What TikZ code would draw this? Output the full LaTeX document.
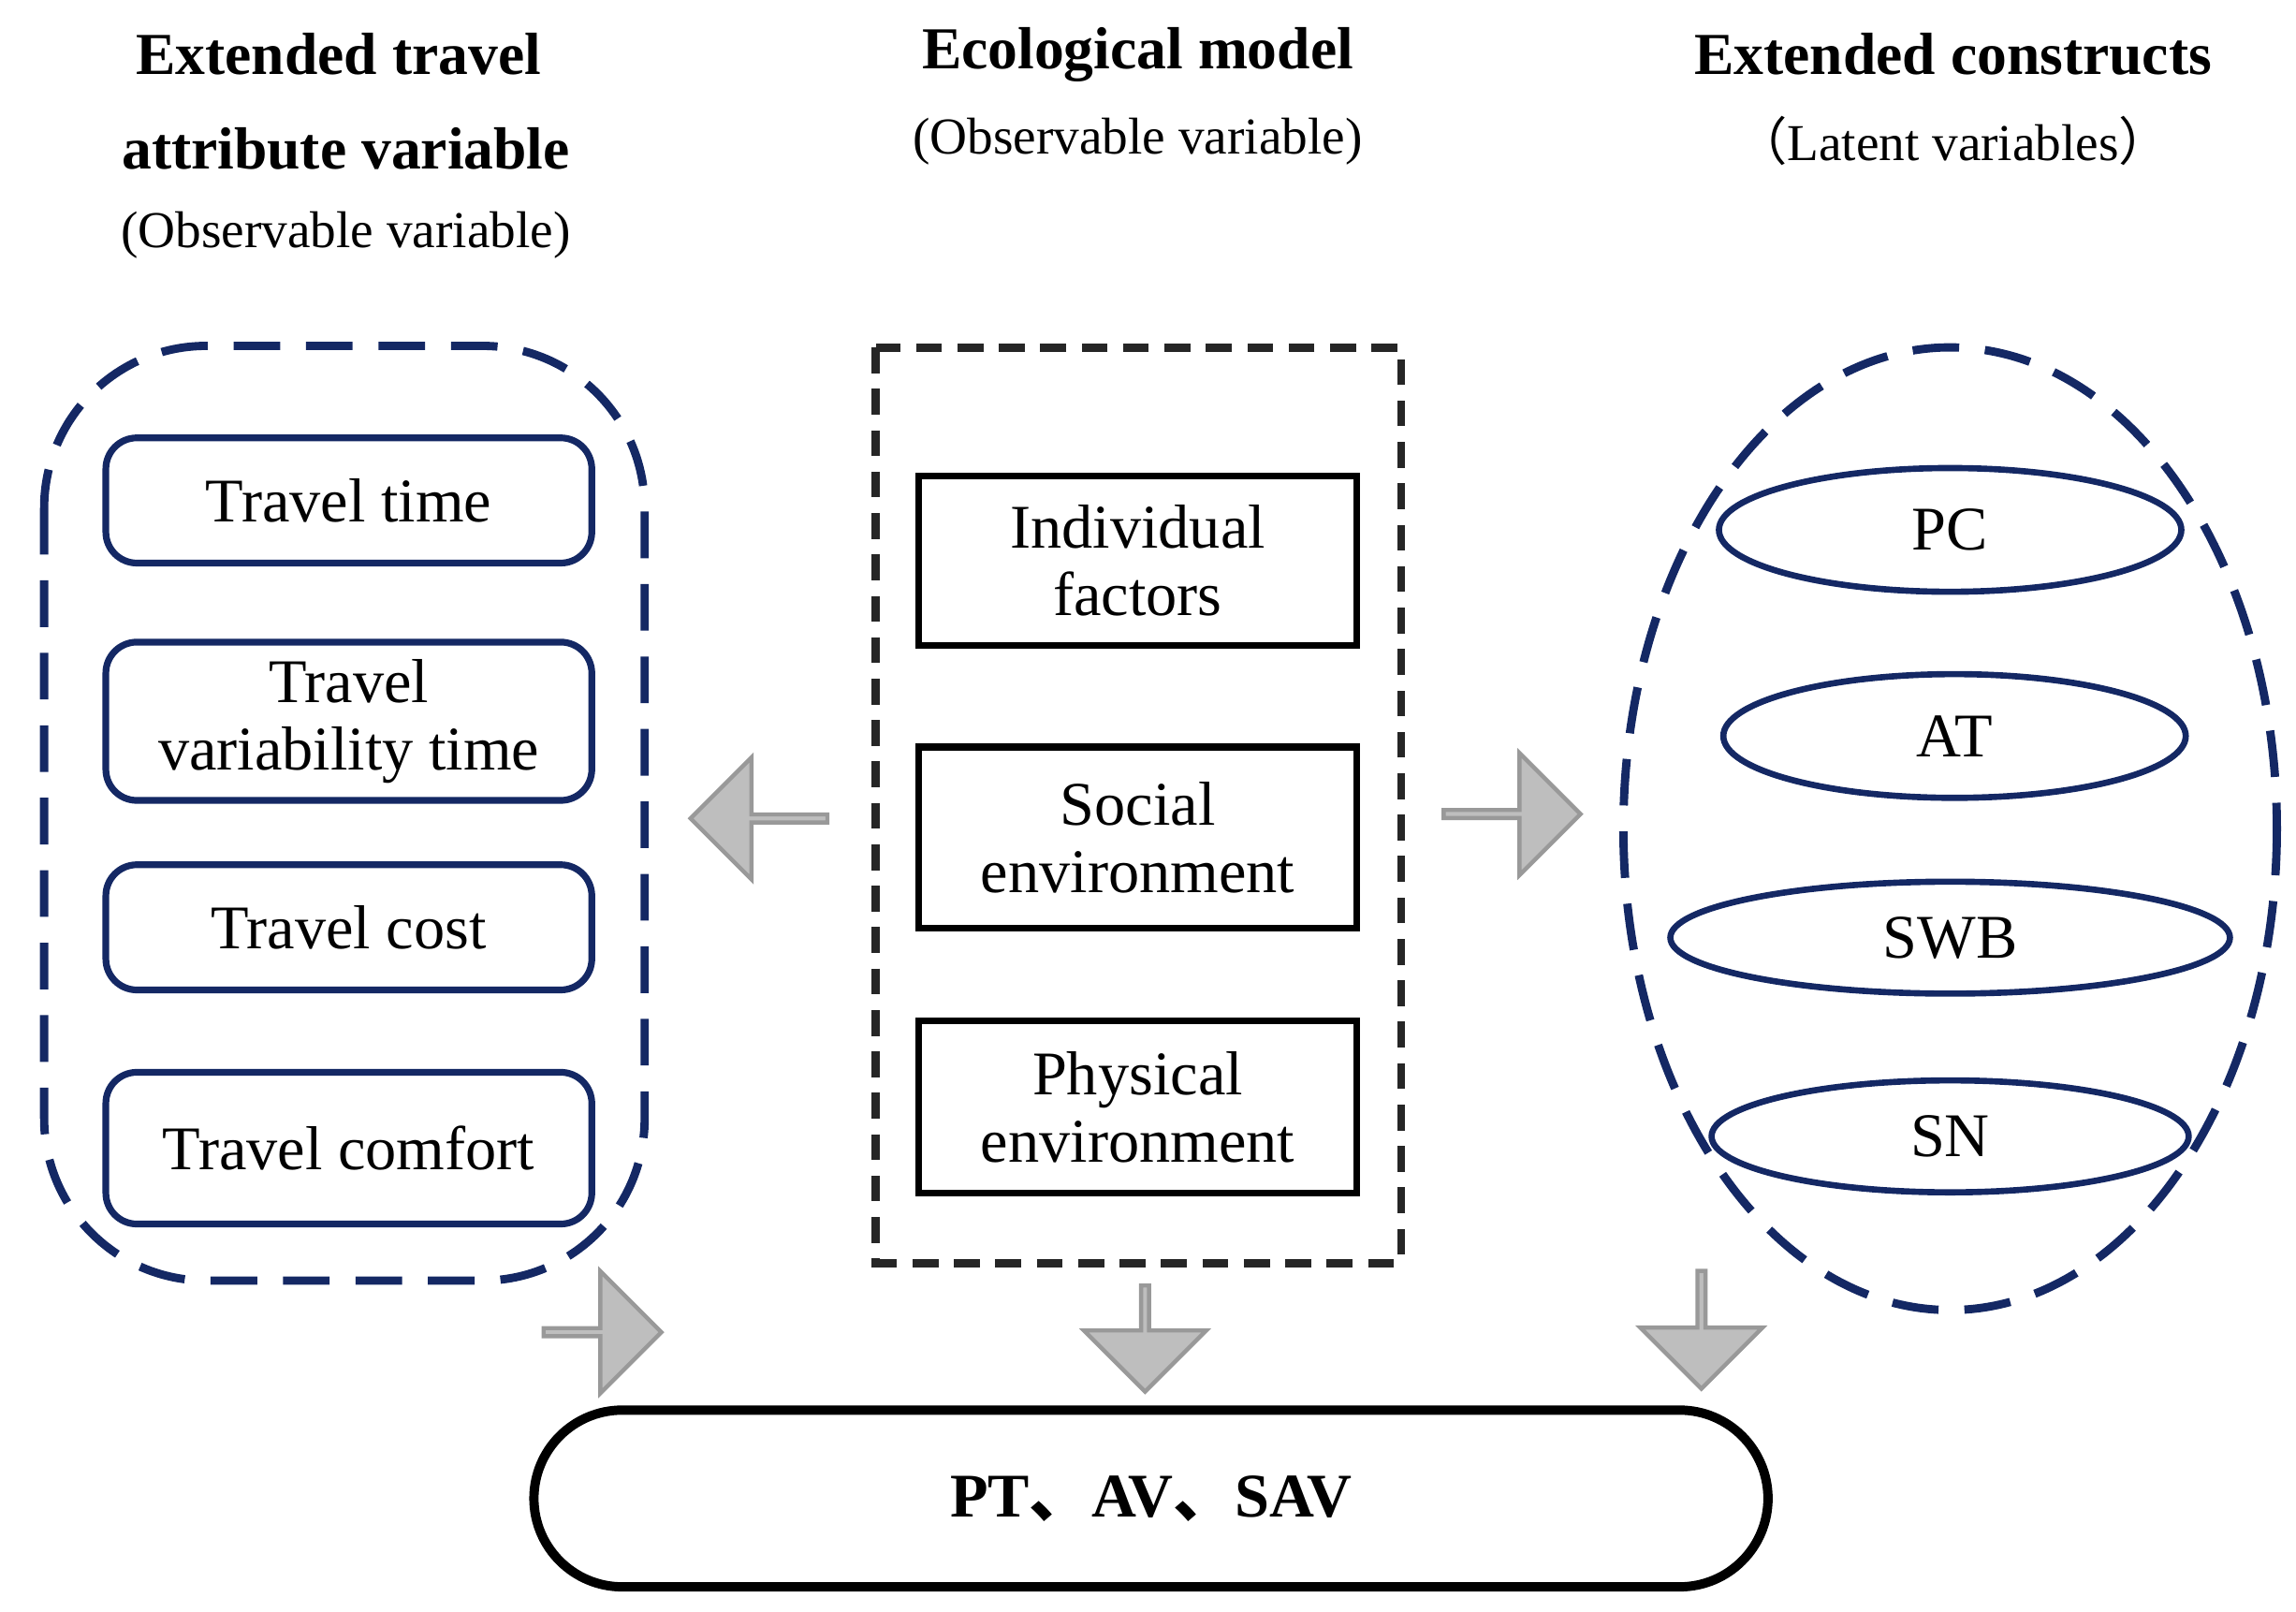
\documentclass[tikz,border=0pt]{standalone}
\usepackage{fontspec}
\setmainfont{Liberation Serif}
\newfontfamily\cjk{Noto Sans CJK SC}
\usetikzlibrary{shapes.geometric, shapes.arrows, positioning}
\definecolor{themeNavy}{RGB}{20, 40, 100}
\definecolor{themeArrow}{RGB}{190, 190, 190}

\begin{document}
\begin{tikzpicture} [
        x=0.01cm, y=-0.01cm,
        head/.style={font=\fontsize{11.5}{13}\selectfont\bfseries, align=center},
        sub/.style={font=\fontsize{10}{12}\selectfont, align=center},
        attr/.style={draw=themeNavy, line width=1.3pt, rounded corners=6pt,
            minimum width=3.3cm, font=\fontsize{12}{13}\selectfont, align=center},
        eco/.style={draw, line width=1.3pt, minimum width=2.97cm,
            font=\fontsize{12}{13}\selectfont, align=center},
        lat/.style={ellipse, draw=themeNavy, line width=1.2pt,
            font=\fontsize{12}{13}\selectfont},
        grey arrow/.style={single arrow, draw=gray!80, fill=themeArrow, line width=0.8pt,
            minimum height=0.93cm, minimum width=0.83cm,
            single arrow head extend=0.2cm, inner sep=0pt}
    ]

    \useasboundingbox (0,0) rectangle (1560,1095);

    % headings
    \node[head] (h1a) at (230,37) {Extended travel};
    \node[head] (h1b) at (235,101) {attribute variable};
    \node[sub] (h1c) at (235,160) {(Observable variable)};
    \node[head] (h2a) at (773,37) {Ecological model};
    \node[sub] (h2b) at (773,96) {(Observable variable)};
    \node[head] (h3a) at (1327,37) {Extended constructs};
    \node[sub] (h3b) at (1327,96) {{\cjk （}Latent variables{\cjk ）}};

    % left group
    \draw[themeNavy, line width=1.6pt, dash pattern=on 9pt off 5pt, rounded corners=1.1cm]
        (30,235) rectangle (438,870);
    \node[attr, minimum height=0.85cm] (tt) at (237,340) {Travel time};
    \node[attr, minimum height=1.04cm] (tv) at (237,490) {Travel\\variability time};
    \node[attr, minimum height=0.85cm] (tc) at (237,630) {Travel cost};
    \node[attr, minimum height=1.03cm] (tf) at (237,780) {Travel comfort};

    % middle group
    \draw[gray!30!black, line width=1.6pt, dash pattern=on 5pt off 3pt]
        (595,236) rectangle (952,858);
    \node[eco, minimum height=1.15cm] (ind) at (773,381) {Individual\\factors};
    \node[eco, minimum height=1.23cm] (soc) at (773,569) {Social\\environment};
    \node[eco, minimum height=1.17cm] (phy) at (773,752) {Physical\\environment};

    % right group
    \draw[themeNavy, line width=1.6pt, dash pattern=on 9pt off 5pt]
        (1325,563) ellipse [x radius=222, y radius=327];
    \node[lat, minimum width=3.14cm, minimum height=0.84cm] (pc) at (1325,360) {PC};
    \node[lat, minimum width=3.14cm, minimum height=0.84cm] (at) at (1328,500) {AT};
    \node[lat, minimum width=3.8cm, minimum height=0.76cm] (swb) at (1325,637) {SWB};
    \node[lat, minimum width=3.24cm, minimum height=0.76cm] (sn) at (1325,772) {SN};

    % outcome
    \node[draw, line width=1.8pt, rounded corners=0.6cm, minimum width=8.38cm,
        minimum height=1.2cm, font=\fontsize{12}{13}\selectfont\bfseries]
        (out) at (782,1018) {PT{\cjk 、}AV{\cjk 、}SAV};

    % arrows
    \node[grey arrow, shape border rotate=180] (aL) at (517,556) {};
    \node[grey arrow] (aR) at (1026,553) {};
    \node[grey arrow, shape border rotate=270, minimum height=0.72cm] (aD) at (778,908) {};
    \node[grey arrow, shape border rotate=315, minimum height=0.8cm] (aDL) at (408,905) {};
    \node[grey arrow, shape border rotate=225, minimum height=0.8cm] (aDR) at (1156,902) {};

\end{tikzpicture}
\end{document}
